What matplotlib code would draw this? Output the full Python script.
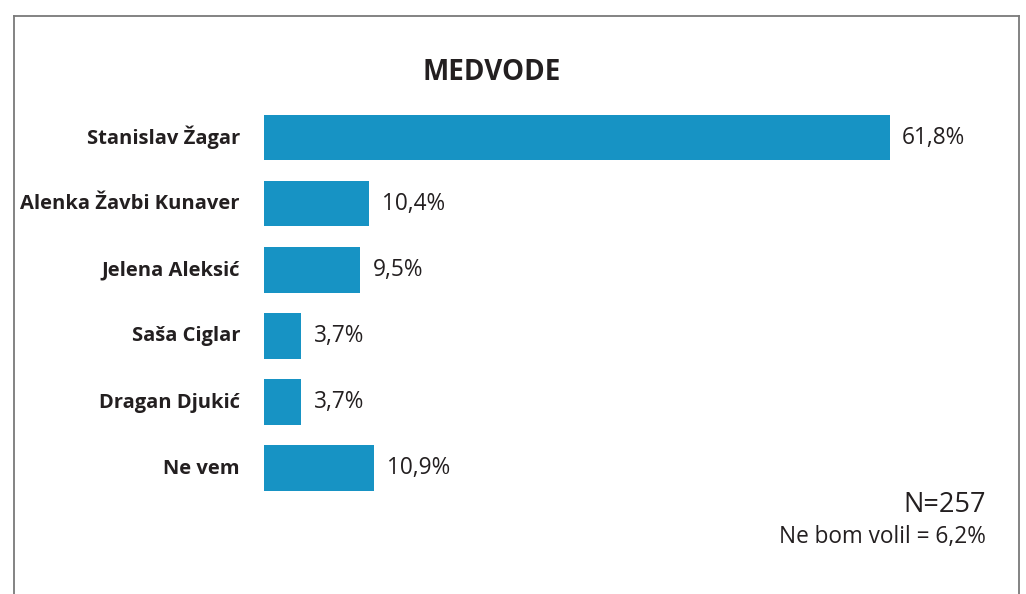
import matplotlib.pyplot as plt
from matplotlib.lines import Line2D

candidates = ['Stanislav Žagar', 'Alenka Žavbi Kunaver', 'Jelena Aleksić',
              'Saša Ciglar', 'Dragan Djukić', 'Ne vem']
shares = [61.8, 10.4, 9.5, 3.7, 3.7, 10.9]
labels = ['61,8%', '10,4%', '9,5%', '3,7%', '3,7%', '10,9%']
title = 'MEDVODE'
n_text = 'N=257'
note_text = 'Ne bom volil = 6,2%'

W, H = 1026, 594
plt.rcParams['font.family'] = ['Open Sans', 'DejaVu Sans']
fig = plt.figure(figsize=(W/100, H/100), dpi=100)
fig.patch.set_facecolor('white')

# axes placed in pixels: bars start at x=264, 61.8% ends at x=890
x0, x1 = 264, 890
y_top, y_bot = 104.5, 501
ax = fig.add_axes([x0/W, 1-y_bot/H, (x1-x0)/W, (y_bot-y_top)/H])
ax.set_xlim(0, 61.8)
ax.set_ylim(5.5, -0.5)
ax.axis('off')

pos = list(range(len(candidates)))
ax.barh(pos, shares, height=0.69, color='#1793c4')
for p, v, lab in zip(pos, shares, labels):
    ax.text(v + 1.2, p, lab, va='center', ha='left', fontsize=16.3,
            color='#231f20', clip_on=False)

for p, name in zip(pos, candidates):
    fig.text(240/W, 1-(104.5+33+p*66.3)/H, name, ha='right', va='center',
             fontsize=14.5, fontweight='bold', color='#231f20')

fig.text(492/W, 1-72/H, title, ha='center', va='center', fontsize=20,
         fontweight='bold', color='#231f20')
fig.text(986/W, 1-505/H, n_text, ha='right', va='center', fontsize=19.5,
         color='#231f20')
fig.text(986/W, 1-537/H, note_text, ha='right', va='center', fontsize=16.3,
         color='#231f20')

# frame
fc = '#7a7a7a'
fig.add_artist(Line2D([14/W, 1019/W], [1-16/H, 1-16/H], color=fc, lw=1.3))
fig.add_artist(Line2D([14/W, 14/W], [0, 1-16/H], color=fc, lw=1.3))
fig.add_artist(Line2D([1019/W, 1019/W], [0, 1-16/H], color=fc, lw=1.3))

plt.savefig('out.png', dpi=100)
